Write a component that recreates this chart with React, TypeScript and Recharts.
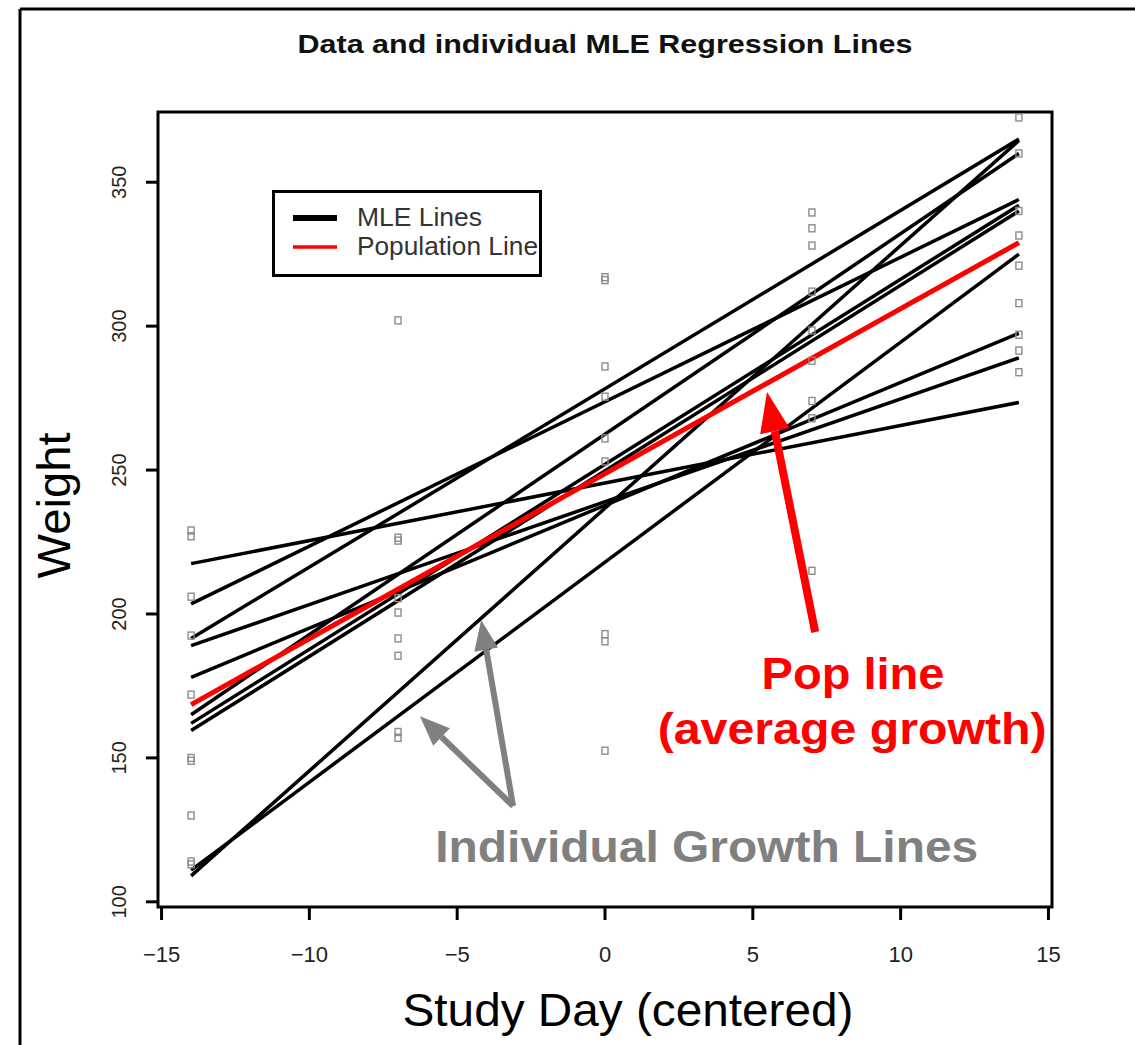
import React from 'react';
import {
  ComposedChart,
  Line,
  Scatter,
  XAxis,
  YAxis,
  ReferenceArea,
  ReferenceLine,
  ReferenceDot,
  Legend,
} from 'recharts';

const days = [-14, -7, 0, 7, 14];
const xTicks = [-15, -10, -5, 0, 5, 10, 15];
const yTicks = [100, 150, 200, 250, 300, 350];

// observed weights, one list per study day
const weightsDayM14 = [229, 227, 206, 192.5, 172, 150, 149, 130, 114, 113];
const weightsDayM7 = [302, 226.5, 225.5, 205.5, 200.5, 191.5, 185.5, 159, 157];
const weightsDay0 = [317, 316, 286, 275.5, 261, 253, 193, 190.5, 152.5];
const weightsDay7 = [339.5, 334, 328, 312, 298.5, 288, 274, 268, 215];
const weightsDay14 = [372.5, 360, 340, 331.5, 321, 308, 297, 291.5, 284];

// individual MLE lines: fitted weight at day -14 and at day 14
const mleStart = [217.5, 203.5, 191.5, 189, 178, 165, 162, 159.5, 111, 109];
const mleEnd = [273.5, 344, 365, 289, 297.5, 360, 342, 340, 325, 364.5];

// population line
const popStart = 168.5;
const popEnd = 329;

// annotations (data coordinates)
const popArrow = [{ x: 7.11, y: 193.7 }, { x: 5.48, y: 277.1 }];
const growthArrows = [
  [{ x: -3.11, y: 133.3 }, { x: -6.26, y: 164.5 }],
  [{ x: -3.11, y: 133.3 }, { x: -4.19, y: 197.9 }],
];
const popText = [
  { x: 8.39, y: 173.9, text: 'Pop line', width: 183 },
  { x: 8.36, y: 154.8, text: '(average growth)', width: 389 },
];
const growthText = { x: 3.44, y: 114.0, text: 'Individual Growth Lines', width: 543 };

const FONT = 'Liberation Sans, Arial, Helvetica, sans-serif';

const weightsByDay = [weightsDayM14, weightsDayM7, weightsDay0, weightsDay7, weightsDay14];
const points = days.flatMap((d, i) => weightsByDay[i].map((w) => ({ x: d, y: w })));
const mleLines = mleStart.map((s, i) => [
  { x: -14, y: s },
  { x: 14, y: mleEnd[i] },
]);
const popLine = [
  { x: -14, y: popStart },
  { x: 14, y: popEnd },
];

const minus = (v: number) => (v < 0 ? '\u2212' + Math.abs(v) : String(v));

const arrowShape = (color: string, width: number, headLen: number, headHalf: number) => (props: any) => {
  const { x1, y1, x2, y2 } = props;
  const ang = Math.atan2(y2 - y1, x2 - x1);
  const bx = x2 - headLen * Math.cos(ang);
  const by = y2 - headLen * Math.sin(ang);
  const px = -Math.sin(ang) * headHalf;
  const py = Math.cos(ang) * headHalf;
  return (
    <g>
      <line x1={x1} y1={y1} x2={bx} y2={by} stroke={color} strokeWidth={width} />
      <polygon points={`${x2},${y2} ${bx + px},${by + py} ${bx - px},${by - py}`} fill={color} />
    </g>
  );
};

const squareShape = (p: any) => (
  <rect x={p.cx - 3} y={p.cy - 3.5} width={6} height={7} fill="none" stroke="#8c8c8c" strokeWidth={1.4} />
);

const YTick = (p: any) => (
  <text
    x={p.x}
    y={p.y}
    transform={`rotate(-90 ${p.x} ${p.y})`}
    textAnchor="middle"
    fontSize={20}
    fontFamily={FONT}
    fill="#222"
  >
    {p.payload.value}
  </text>
);

const LegendBox = () => (
  <div style={{ width: 264, height: 81, border: '3px solid #000', background: '#fff' }}>
    <svg width={264} height={81}>
      <line x1={18} y1={25} x2={62} y2={25} stroke="#000" strokeWidth={6} />
      <line x1={18} y1={54} x2={62} y2={54} stroke="#ff0000" strokeWidth={3.5} />
      <text x={82} y={33} fontSize={25} fontFamily={FONT} fill="#333" textLength={125} lengthAdjust="spacingAndGlyphs">
        MLE Lines
      </text>
      <text x={82} y={62} fontSize={25} fontFamily={FONT} fill="#333" textLength={181} lengthAdjust="spacingAndGlyphs">
        Population Line
      </text>
    </svg>
  </div>
);

export default function App() {
  return (
    <div style={{ position: 'absolute', left: 0, top: 0, width: 1135, height: 1045, background: '#fff' }}>
      <svg width={1135} height={1045} style={{ position: 'absolute', left: 0, top: 0 }}>
        <line x1={20} y1={9} x2={1135} y2={9} stroke="#000" strokeWidth={3} />
        <line x1={20} y1={9} x2={20} y2={1045} stroke="#000" strokeWidth={3} />
        <text
          x={605}
          y={53}
          textAnchor="middle"
          fontSize={25}
          fontWeight="bold"
          fontFamily={FONT}
          fill="#111"
          textLength={615}
          lengthAdjust="spacingAndGlyphs"
        >
          Data and individual MLE Regression Lines
        </text>
      </svg>
      <div style={{ position: 'absolute', left: 0, top: 0 }}>
        <ComposedChart width={1135} height={1045} margin={{ top: 112, right: 83, bottom: 0, left: 0 }}>
          <XAxis
            type="number"
            dataKey="x"
            domain={[-15.12, 15.12]}
            ticks={xTicks}
            allowDataOverflow
            axisLine={false}
            tickLine={{ stroke: '#000', strokeWidth: 3 }}
            tickSize={13}
            tickMargin={26}
            height={138}
            tickFormatter={minus}
            tick={{ fontSize: 22, fontFamily: FONT, fill: '#222' }}
            label={{
              content: (p: any) => {
                const vb = p.viewBox;
                return (
                  <text
                    x={vb.x + vb.width / 2 + 23}
                    y={vb.y + 119}
                    textAnchor="middle"
                    fontSize={46}
                    fontFamily={FONT}
                    fill="#000"
                    textLength={451}
                    lengthAdjust="spacingAndGlyphs"
                  >
                    Study Day (centered)
                  </text>
                );
              },
            }}
          />
          <YAxis
            type="number"
            dataKey="y"
            domain={[98.2, 374.4]}
            ticks={yTicks}
            allowDataOverflow
            axisLine={false}
            tickLine={{ stroke: '#000', strokeWidth: 3 }}
            tickSize={12}
            tickMargin={20}
            width={158}
            tick={<YTick />}
            label={{
              content: (p: any) => {
                const vb = p.viewBox;
                const cy = vb.y + vb.height / 2 - 4;
                return (
                  <text
                    x={70}
                    y={cy}
                    transform={`rotate(-90 70 ${cy})`}
                    textAnchor="middle"
                    fontSize={46}
                    fontFamily={FONT}
                    fill="#000"
                    textLength={146}
                    lengthAdjust="spacingAndGlyphs"
                  >
                    Weight
                  </text>
                );
              },
            }}
          />
          <ReferenceArea
            x1={-15.12}
            x2={15.12}
            y1={98.2}
            y2={374.4}
            fill="none"
            fillOpacity={0}
            stroke="#000"
            strokeWidth={3}
          />
          <Legend
            layout="vertical"
            align="center"
            verticalAlign="middle"
            wrapperStyle={{ left: 272, top: 190, width: 270 }}
            content={() => <LegendBox />}
          />
          <Scatter data={points} dataKey="y" shape={squareShape} isAnimationActive={false} legendType="none" />
          {mleLines.map((d, i) => (
            <Line
              key={i}
              data={d}
              dataKey="y"
              type="linear"
              stroke="#000"
              strokeWidth={3.5}
              dot={false}
              activeDot={false}
              isAnimationActive={false}
              legendType="none"
            />
          ))}
          <Line
            data={popLine}
            dataKey="y"
            type="linear"
            stroke="#ff0000"
            strokeWidth={5}
            dot={false}
            activeDot={false}
            isAnimationActive={false}
            legendType="none"
          />
          <ReferenceLine segment={popArrow} shape={arrowShape('#ff0000', 8, 40, 15)} />
          {growthArrows.map((seg, i) => (
            <ReferenceLine key={i} segment={seg} shape={arrowShape('#808080', 6, 30, 12)} />
          ))}
          {popText.map((t, i) => (
            <ReferenceDot
              key={i}
              x={t.x}
              y={t.y}
              shape={(p: any) => (
                <text
                  x={p.cx}
                  y={p.cy}
                  textAnchor="middle"
                  fontSize={44}
                  fontWeight="bold"
                  fontFamily={FONT}
                  fill="#ff0000"
                  textLength={t.width}
                  lengthAdjust="spacingAndGlyphs"
                >
                  {t.text}
                </text>
              )}
            />
          ))}
          <ReferenceDot
            x={growthText.x}
            y={growthText.y}
            shape={(p: any) => (
              <text
                x={p.cx}
                y={p.cy}
                textAnchor="middle"
                fontSize={44}
                fontWeight="bold"
                fontFamily={FONT}
                fill="#808080"
                textLength={growthText.width}
                lengthAdjust="spacingAndGlyphs"
              >
                {growthText.text}
              </text>
            )}
          />
        </ComposedChart>
      </div>
    </div>
  );
}
